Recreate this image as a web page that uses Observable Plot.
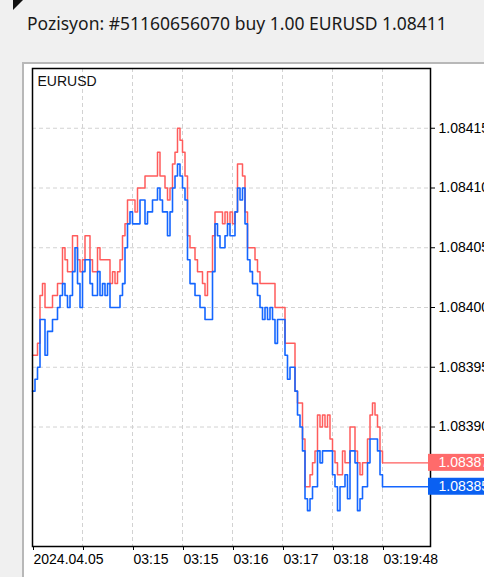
<!DOCTYPE html>
<html>
<head>
<meta charset="utf-8">
<script src="https://cdn.jsdelivr.net/npm/d3@7"></script>
<script src="https://cdn.jsdelivr.net/npm/@observablehq/plot@0.6"></script>
<style>
  html, body { margin: 0; padding: 0; width: 484px; height: 577px; overflow: hidden; background: #f0f0f0; }
  #corner { position: absolute; left: 13px; top: 0; width: 0; height: 0;
            border-top: 10px solid #111; border-right: 10px solid transparent; }
  #title { position: absolute; left: 27px; top: 13px; font-family: "Noto Sans", "Open Sans", sans-serif;
           font-size: 17.5px; line-height: 20px; color: #1a1a1a; white-space: nowrap; }
  #panel { position: absolute; left: 22px; top: 62px; width: 462px; height: 515px; background: #fff; }
  #panel svg { position: absolute; left: 0; top: 0; }
  #border { position: absolute; left: 22px; top: 62px; width: 470px; height: 520px; box-sizing: border-box;
            border-left: 2px solid #b8b8b8; border-top: 2px solid #b8b8b8; pointer-events: none; }
</style>
</head>
<body>
<div id="corner"></div>
<div id="title">Pozisyon: #51160656070 buy 1.00 EURUSD 1.08411</div>
<div id="panel"></div>
<div id="border"></div>
<script>
// Prices in units of 0.00001 above 1.08300 (e.g. 93 -> 1.08393), one value per tick index
const bidPoints = [
  93,94,95,99,99,96,98,98,99,99, 100,101,102,101,100,101,103,105,102,100,
  103,104,104,102,101,101,103,101,102,101, 102,100,100,100,100,101,102,105,107,108,
  107,107,107,109,109,107,108,108,109,109, 110,109,108,108,106,108,110,111,112,111,
  110,109,104,102,102,101,101,100,100,99, 99,99,103,107,106,105,105,106,107,106,
  106,108,110,109,110,107,104,103,102,102, 101,100,99,100,99,100,99,97,99,99,
  99,96,94,95,95,93,91,90,88,84, 83,84,85,85,88,87,88,88,88,88,
  86,85,83,85,85,86,84,88,88,87, 83,84,85,85,87,89,89,89,88,86,
  85
];
const askPoints = [
  96,96,97,101,102,100,100,100,101,101, 102,102,105,104,103,103,106,106,104,103,
  104,106,106,104,103,103,105,104,104,104, 104,102,103,102,103,104,106,107,109,109,
  109,108,110,110,110,111,111,111,111,111, 113,111,111,110,109,110,112,113,115,114,
  113,111,106,105,105,104,103,103,102,101, 103,103,106,108,108,108,107,108,107,108,
  107,108,112,112,111,108,105,105,105,104, 103,102,102,102,102,102,102,100,100,100,
  100,97,97,97,97,93,92,92,89,85, 85,86,87,88,91,90,91,90,91,89,
  88,87,86,86,88,87,87,90,90,88, 87,86,87,87,89,91,92,91,90,88,
  87
];
const xTicks = [0, 20, 40, 60, 80, 100, 120, 140];
const xTickLabels = ["2024.04.05", "", "03:15", "03:15", "03:16", "03:17", "03:18", "03:19:48"];
const yTicks = [1.08390, 1.08395, 1.08400, 1.08405, 1.08410, 1.08415];
const symbol = "EURUSD";

const toPrice = v => +(1.083 + v / 1e5).toFixed(5);
const rows = bidPoints.map((v, i) => ({i, bid: toPrice(v), ask: toPrice(askPoints[i])}));
const last = rows[rows.length - 1];
const xEnd = 159.2;
const labelOf = new Map(xTicks.map((t, k) => [t, xTickLabels[k]]));

const RED = "#ff5c5c", BLUE = "#1466ff";
const RED_BOX = "#ff6b6b", BLUE_BOX = "#0a60f2";
const GRID = "#d2d2d2";

const chart = Plot.plot({
  width: 462, height: 515,
  marginLeft: 10, marginTop: 6, marginRight: 54, marginBottom: 31,
  x: {domain: [0, xEnd], axis: null},
  y: {domain: [1.08380, 1.08420], axis: null},
  style: {background: "transparent", fontFamily: "Liberation Sans, Arial, sans-serif", fontSize: "14px", color: "#000", overflow: "hidden"},
  marks: [
    Plot.ruleX(xTicks.slice(1), {stroke: GRID, strokeDasharray: "4,3", strokeWidth: 1}),
    Plot.ruleY(yTicks, {stroke: GRID, strokeDasharray: "4,3", strokeWidth: 1}),
    Plot.line(rows, {x: "i", y: "ask", curve: "step-after", stroke: RED, strokeWidth: 1.5}),
    Plot.line(rows, {x: "i", y: "bid", curve: "step-after", stroke: BLUE, strokeWidth: 1.6}),
    Plot.ruleY([last.ask], {x1: last.i, x2: xEnd, stroke: RED, strokeWidth: 1.3}),
    Plot.ruleY([last.bid], {x1: last.i, x2: xEnd, stroke: BLUE, strokeWidth: 1.3}),
    Plot.frame({stroke: "#000", strokeWidth: 1.5}),
    Plot.axisX(xTicks, {anchor: "bottom", label: null, tickSize: 4, tickPadding: 4, textAnchor: "start", dx: 1,
      tickFormat: d => labelOf.get(d), stroke: "#000", fill: "#000", fontSize: 14}),
    Plot.axisY(yTicks, {anchor: "right", label: null, tickSize: 4, tickPadding: 4, textAnchor: "start",
      tickFormat: d => d.toFixed(5), stroke: "#000", fill: "#000", fontSize: 14}),
    Plot.rect([last.ask], {x1: xEnd, x2: xEnd, y1: d => d, y2: d => d,
      insetLeft: -2, insetRight: -70, insetTop: -8.5, insetBottom: -8.5, fill: RED_BOX}),
    Plot.rect([last.bid], {x1: xEnd, x2: xEnd, y1: d => d, y2: d => d,
      insetLeft: -2, insetRight: -70, insetTop: -8.5, insetBottom: -8.5, fill: BLUE_BOX}),
    Plot.text([last.ask], {x: xEnd, y: d => d, text: d => d.toFixed(5), dx: 8, textAnchor: "start", fill: "#fff", fontSize: 14}),
    Plot.text([last.bid], {x: xEnd, y: d => d, text: d => d.toFixed(5), dx: 8, textAnchor: "start", fill: "#fff", fontSize: 14}),
    Plot.text([symbol], {frameAnchor: "top-left", dx: 5, dy: 8, textAnchor: "start", lineAnchor: "top", fill: "#111", fontSize: 14})
  ]
});
document.getElementById("panel").appendChild(chart);
</script>
</body>
</html>
